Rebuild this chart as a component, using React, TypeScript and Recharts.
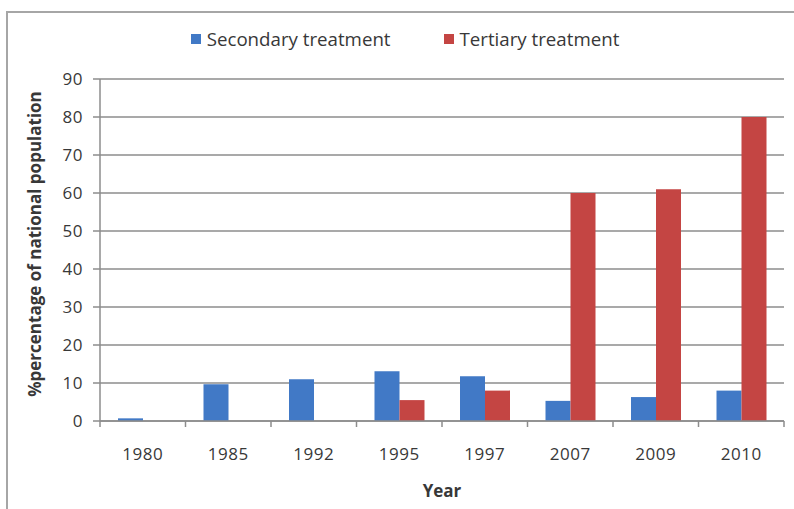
import { BarChart, Bar, XAxis, YAxis, CartesianGrid, Legend } from "recharts";

const YEARS = ["1980", "1985", "1992", "1995", "1997", "2007", "2009", "2010"];
const SECONDARY = [0.7, 9.7, 11, 13.1, 11.8, 5.3, 6.3, 8];
const TERTIARY = [0, 0, 0, 5.5, 8, 60, 61, 80];
const Y_TICKS = [0, 10, 20, 30, 40, 50, 60, 70, 80, 90];

const SERIES = [
  { key: "secondary", name: "Secondary treatment", color: "#4179C6" },
  { key: "tertiary", name: "Tertiary treatment", color: "#C44543" },
];

const data = YEARS.map((year, i) => ({
  year,
  secondary: SECONDARY[i],
  tertiary: TERTIARY[i],
}));

const FONT = "'Open Sans', sans-serif";
const AXIS = "#8c8c8c";
const TEXT = "#383838";

function LegendBox() {
  return (
    <div
      style={{
        display: "flex",
        justifyContent: "center",
        gap: 53,
        fontFamily: FONT,
        fontSize: 18.7,
        lineHeight: "22px",
        color: TEXT,
        marginLeft: 16,
      }}
    >
      {SERIES.map((s) => (
        <span key={s.key} style={{ display: "flex", alignItems: "center" }}>
          <span
            style={{
              display: "inline-block",
              width: 10,
              height: 10,
              background: s.color,
              marginRight: 6,
            }}
          />
          {s.name}
        </span>
      ))}
    </div>
  );
}

function YearTick(props: any) {
  const { x, y, payload, index } = props;
  const off = payload?.offset ?? 0;
  const last = index === YEARS.length - 1;
  return (
    <g>
      <line x1={x - off} x2={x - off} y1={y - 27} y2={y - 21} stroke={AXIS} strokeWidth={1.5} />
      {last && (
        <line x1={x + off} x2={x + off} y1={y - 27} y2={y - 21} stroke={AXIS} strokeWidth={1.5} />
      )}
      <text
        x={x}
        y={y}
        dy="0.71em"
        textAnchor="middle"
        fontFamily={FONT}
        fontSize={17}
        letterSpacing={0.5}
        fill={TEXT}
      >
        {payload.value}
      </text>
    </g>
  );
}

function YLabel(props: any) {
  const { viewBox } = props;
  const cx = viewBox.x + 24;
  const cy = viewBox.y + viewBox.height / 2 - 6;
  return (
    <text
      x={cx}
      y={cy}
      transform={`rotate(-90, ${cx}, ${cy})`}
      textAnchor="middle"
      dominantBaseline="central"
      fontFamily={FONT}
      fontWeight={700}
      fontSize={17}
      fill={TEXT}
    >
      %percentage of national population
    </text>
  );
}

export default function App() {
  return (
    <div
      style={{
        position: "absolute",
        left: 0,
        top: 0,
        width: 794,
        height: 509,
        background: "#fff",
      }}
    >
      <div
        style={{
          position: "absolute",
          left: 6,
          top: 11,
          width: 800,
          height: 520,
          borderTop: "2px solid #a6a6a6",
          borderLeft: "2px solid #a6a6a6",
        }}
      />
      <BarChart
        width={794}
        height={509}
        data={data}
        margin={{ top: 57, right: 10, bottom: 8, left: 10 }}
        barGap={0}
        barSize={25}
        style={{ position: "absolute", left: 0, top: 0 }}
      >
        <CartesianGrid vertical={false} stroke={AXIS} strokeWidth={1.5} />
        <XAxis
          dataKey="year"
          height={80}
          tickLine={false}
          tickSize={5}
          tickMargin={22}
          axisLine={{ stroke: AXIS, strokeWidth: 1.5 }}
          tick={<YearTick />}
          interval={0}
          label={{
            value: "Year",
            position: "insideBottom",
            offset: 4,
            fontFamily: FONT,
            fontWeight: 700,
            fontSize: 17,
            fill: TEXT,
          }}
        />
        <YAxis
          width={90}
          domain={[0, 90]}
          ticks={Y_TICKS}
          interval={0}
          tickSize={7}
          tickMargin={10}
          tickLine={{ stroke: AXIS, strokeWidth: 1.5 }}
          axisLine={{ stroke: AXIS, strokeWidth: 1.5 }}
          tick={{ fontFamily: FONT, fontSize: 17, fill: TEXT, letterSpacing: 0.5 }}
          label={{ content: <YLabel /> }}
        />
        <Legend
          verticalAlign="top"
          align="center"
          content={<LegendBox />}
          wrapperStyle={{ top: 28 }}
        />
        {SERIES.map((s) => (
          <Bar
            key={s.key}
            dataKey={s.key}
            name={s.name}
            fill={s.color}
            isAnimationActive={false}
          />
        ))}
      </BarChart>
    </div>
  );
}
